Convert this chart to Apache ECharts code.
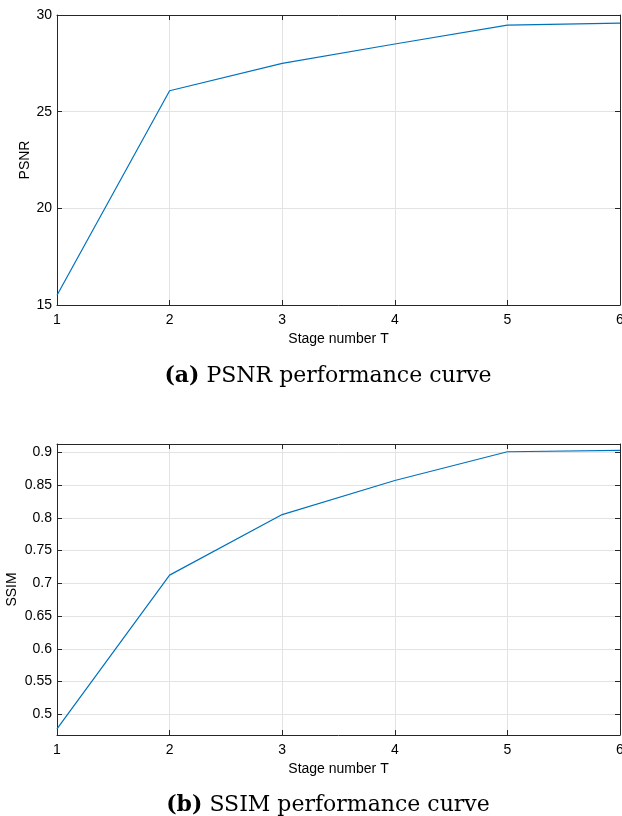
<!DOCTYPE html>
<html>
<head>
<meta charset="utf-8">
<script src="https://cdn.jsdelivr.net/npm/echarts@6/dist/echarts.min.js"></script>
<style>
  html, body { margin: 0; padding: 0; background: #fff; }
  #main { width: 622px; height: 816px; }
</style>
</head>
<body>
<div id="main"></div>
<script>
// stage numbers and measured curves
var stages = [1, 2, 3, 4, 5, 6];
var psnrValues = [15.5, 26.08, 27.5, 28.5, 29.48, 29.58];
var ssimValues = [0.4776, 0.7125, 0.805, 0.857, 0.901, 0.903];
var psnrTicks = [15, 20, 25, 30];
var ssimTicks = [0.5, 0.55, 0.6, 0.65, 0.7, 0.75, 0.8, 0.85, 0.9];

var lineColor = '#0072BD';
var axisColor = '#262626';
var gridColor = '#e3e3e3';
var labelFont = 'Liberation Sans';

function pairs(ys) {
    return stages.map(function (x, i) { return [x, ys[i]]; });
}

function xAxisFor(gridIndex, showLabels) {
    return {
        type: 'value',
        gridIndex: gridIndex,
        min: 1, max: 6, interval: 1,
        position: showLabels ? 'bottom' : 'top',
        name: showLabels ? 'Stage number T' : '',
        nameLocation: 'middle',
        nameGap: 27,
        nameMoveOverlap: false,
        nameTextStyle: { color: '#000', fontSize: 14, fontFamily: labelFont },
        axisLine: { show: true, onZero: false, lineStyle: { color: axisColor, width: 1 } },
        axisTick: { show: true, inside: true, length: 5, lineStyle: { color: axisColor } },
        axisLabel: { show: showLabels, color: '#000', fontSize: 14, fontFamily: labelFont, margin: 8 },
        splitLine: { show: showLabels, lineStyle: { color: gridColor, width: 1 } }
    };
}

function yAxisFor(gridIndex, showLabels, name, nameGap, min, max, ticks) {
    return {
        type: 'value',
        gridIndex: gridIndex,
        min: min, max: max,
        position: showLabels ? 'left' : 'right',
        name: showLabels ? name : '',
        nameLocation: 'middle',
        nameGap: nameGap,
        nameMoveOverlap: false,
        nameTextStyle: { color: '#000', fontSize: 14, fontFamily: labelFont },
        axisLine: { show: true, onZero: false, lineStyle: { color: axisColor, width: 1 } },
        axisTick: { show: true, inside: true, length: 5, customValues: ticks, lineStyle: { color: axisColor } },
        axisLabel: {
            show: showLabels, color: '#000', fontSize: 14, fontFamily: labelFont, margin: 5,
            customValues: ticks,
            formatter: function (v) { return String(+v.toFixed(4)); }
        },
        splitLine: { show: showLabels, lineStyle: { color: gridColor, width: 1 } }
    };
}

var chart = echarts.init(document.getElementById('main'), null, { renderer: 'canvas' });

var captionStyle = {
    fontFamily: 'DejaVu Serif',
    fontSize: 22,
    fontWeight: 'normal',
    color: '#000',
    rich: {
        b: { fontFamily: 'DejaVu Serif', fontSize: 22, fontWeight: 'bold', color: '#000' }
    }
};

chart.setOption({
    animation: false,
    backgroundColor: '#fff',
    title: [
        { text: '{b|(a)} PSNR performance curve', left: 323, top: 360, textAlign: 'center', textStyle: captionStyle },
        { text: '{b|(b)} SSIM performance curve', left: 323, top: 789, textAlign: 'center', textStyle: captionStyle }
    ],
    grid: [
        { left: 57, right: 2, top: 15, height: 290, outerBoundsMode: 'none', containLabel: false },
        { left: 57, right: 2, top: 444, height: 291, outerBoundsMode: 'none', containLabel: false }
    ],
    xAxis: [
        xAxisFor(0, true), xAxisFor(0, false),
        xAxisFor(1, true), xAxisFor(1, false)
    ],
    yAxis: [
        yAxisFor(0, true, 'PSNR', 25, 15, 30, psnrTicks),
        yAxisFor(0, false, '', 0, 15, 30, psnrTicks),
        yAxisFor(1, true, 'SSIM', 38, 0.4683, 0.9128, ssimTicks),
        yAxisFor(1, false, '', 0, 0.4683, 0.9128, ssimTicks)
    ],
    series: [
        {
            type: 'line', xAxisIndex: 0, yAxisIndex: 0,
            data: pairs(psnrValues),
            showSymbol: false, symbol: 'none',
            lineStyle: { color: lineColor, width: 1.2 }
        },
        {
            type: 'line', xAxisIndex: 2, yAxisIndex: 2,
            data: pairs(ssimValues),
            showSymbol: false, symbol: 'none',
            lineStyle: { color: lineColor, width: 1.2 }
        }
    ]
});
</script>
</body>
</html>
